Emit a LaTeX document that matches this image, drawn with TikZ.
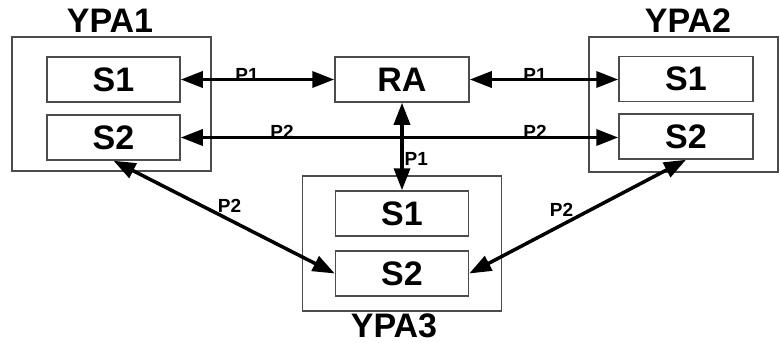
\documentclass[tikz,border=0pt]{standalone}
\usepackage{fontspec}
\setmainfont{Liberation Sans}
\usetikzlibrary{arrows.meta}

\begin{document}
\begin{tikzpicture}[x=1pt,y=-1pt,
  outer/.style={draw=black!70, line width=1.3pt, inner sep=0pt},
  sbox/.style={draw=black!70, line width=1.5pt, inner sep=0pt,
    minimum width=133pt, minimum height=45pt,
    font=\fontsize{34}{36}\selectfont\bfseries},
  title/.style={inner sep=0pt, anchor=base, font=\fontsize{34}{36}\selectfont\bfseries},
  plabel/.style={inner sep=0pt, anchor=base, font=\fontsize{19}{20}\selectfont\bfseries},
  link/.style={line width=3.5pt, {Triangle[length=22pt,width=16pt]}-{Triangle[length=22pt,width=16pt]}}]
\useasboundingbox (0,0) rectangle (780,343);

% outer boxes
\node[outer, minimum width=199pt, minimum height=134pt] (ypa1) at (111.5,104) {};
\node[outer, minimum width=189pt, minimum height=135pt] (ypa2) at (683.5,104.5) {};
\node[outer, minimum width=199pt, minimum height=135pt] (ypa3) at (402,243.5) {};
\node[title] (t1) at (110,32) {YPA1};
\node[title] (t2) at (688,32) {YPA2};
\node[title] (t3) at (394,337) {YPA3};

% inner boxes
\node[sbox] (s1a) at (113.5,79.5) {S1};
\node[sbox] (s2a) at (113.5,137.5) {S2};
\node[sbox, minimum width=134pt] (ra) at (402,79.5) {RA};
\node[sbox, minimum width=134pt] (s1b) at (686,79) {S1};
\node[sbox, minimum width=134pt] (s2b) at (686,136.5) {S2};
\node[sbox] (s1c) at (402,213.5) {S1};
\node[sbox] (s2c) at (402,273.5) {S2};

% links
\draw[link] (s1a) -- (ra);
\draw[link] (ra) -- (ra -| s1b.west);
\draw[link] (s2a.east) -- (s2a.east -| s2b.west);
\draw[link] (ra) -- (s1c);
\draw[link] (s2a.south) -- (s2c.west);
\draw[link] (s2c.east) -- (s2b.south);

% link labels
\node[plabel] (l1) at (247,81) {P1};
\node[plabel] (l2) at (535,81) {P1};
\node[plabel] (l3) at (282,138) {P2};
\node[plabel] (l4) at (535,138) {P2};
\node[plabel, anchor=base west] (l5) at (404.5,165) {P1};
\node[plabel] (l6) at (229.5,212) {P2};
\node[plabel] (l7) at (561.5,216) {P2};
\end{tikzpicture}
\end{document}
